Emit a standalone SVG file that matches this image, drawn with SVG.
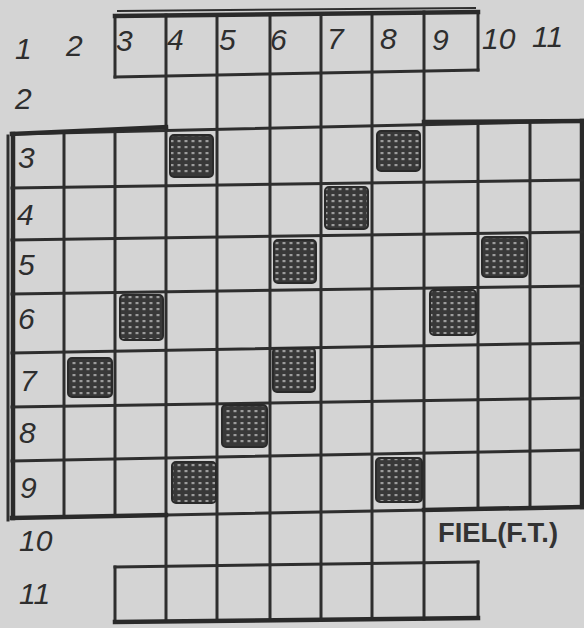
<svg xmlns="http://www.w3.org/2000/svg" width="584" height="628" viewBox="0 0 584 628">
<style>
.g{stroke:#2e2e2e;stroke-width:3;stroke-linecap:square;fill:none}
.o{stroke:#2a2a2a;stroke-width:4.5;stroke-linecap:square;fill:none}
.n{font-family:"Liberation Sans",Arial,sans-serif;font-style:italic;font-size:30px;fill:#2e2e2e}
.ship{fill:url(#hatch);stroke:#2a2a2a;stroke-width:2}
.cap{font-family:"Liberation Sans",Arial,sans-serif;font-weight:bold;font-size:27px;fill:#333}
</style>
<defs>
<pattern id="hatch" width="7" height="6" patternUnits="userSpaceOnUse">
<rect width="7" height="6" fill="#383838"/>
<rect x="2.5" y="2" width="3" height="2.2" fill="#9c9c9c"/>
</pattern>
</defs>
<rect width="584" height="628" fill="#d4d4d4"/>
<g id="grid">
<line class="g" x1="64" y1="133" x2="64" y2="517"/>
<line class="g" x1="115" y1="16" x2="115" y2="77"/>
<line class="g" x1="115" y1="132" x2="115" y2="516"/>
<line class="g" x1="115" y1="567" x2="115" y2="622"/>
<line class="g" x1="166" y1="15" x2="166" y2="621"/>
<line class="g" x1="217" y1="15" x2="217" y2="621"/>
<line class="g" x1="270" y1="14" x2="270" y2="620"/>
<line class="g" x1="321" y1="14" x2="321" y2="620"/>
<line class="g" x1="372" y1="13" x2="372" y2="619"/>
<line class="g" x1="424" y1="12" x2="424" y2="619"/>
<line class="g" x1="478" y1="12" x2="478" y2="70"/>
<line class="g" x1="478" y1="123" x2="478" y2="509"/>
<line class="g" x1="478" y1="562" x2="478" y2="618"/>
<line class="g" x1="530" y1="122" x2="530" y2="508"/>
<line class="o" x1="582" y1="121" x2="582" y2="507"/>
<line class="o" x1="13" y1="134" x2="13" y2="518"/>
<line class="g" x1="8" y1="136" x2="8" y2="520"/>
<line class="o" x1="115" y1="16" x2="478" y2="12"/>
<line class="g" x1="118" y1="11" x2="475" y2="8" style="stroke-width:2"/>
<line class="g" x1="115" y1="77" x2="478" y2="70"/>
<line class="g" x1="12" y1="134" x2="582" y2="121"/>
<line class="o" x1="12" y1="134" x2="166" y2="127"/>
<line class="o" x1="424" y1="122" x2="582" y2="121"/>
<line class="g" x1="12" y1="188" x2="582" y2="180"/>
<line class="g" x1="12" y1="240" x2="582" y2="232"/>
<line class="g" x1="12" y1="294" x2="582" y2="286"/>
<line class="g" x1="12" y1="353" x2="582" y2="343"/>
<line class="g" x1="12" y1="407" x2="582" y2="398"/>
<line class="g" x1="12" y1="461" x2="582" y2="450"/>
<line class="g" x1="12" y1="518" x2="582" y2="507"/>
<line class="o" x1="12" y1="518" x2="166" y2="515"/>
<line class="o" x1="424" y1="510" x2="582" y2="507"/>
<line class="g" x1="115" y1="567" x2="478" y2="562"/>
<line class="o" x1="115" y1="622" x2="478" y2="618"/>
</g>
<g id="ships">
<rect class="ship" x="170" y="135" width="43" height="42" rx="4"/>
<rect class="ship" x="377" y="131" width="43" height="40" rx="4"/>
<rect class="ship" x="325" y="187" width="43" height="42" rx="4"/>
<rect class="ship" x="274" y="240" width="42" height="43" rx="4"/>
<rect class="ship" x="482" y="237" width="45" height="40" rx="4"/>
<rect class="ship" x="120" y="295" width="43" height="45" rx="4"/>
<rect class="ship" x="430" y="290" width="46" height="45" rx="4"/>
<rect class="ship" x="68" y="358" width="44" height="39" rx="4"/>
<rect class="ship" x="273" y="348" width="42" height="44" rx="4"/>
<rect class="ship" x="222" y="405" width="45" height="42" rx="4"/>
<rect class="ship" x="172" y="462" width="44" height="41" rx="4"/>
<rect class="ship" x="376" y="458" width="46" height="44" rx="4"/>
</g>
<g id="column-labels">
<text class="n" x="15" y="59">1</text>
<text class="n" x="66" y="56">2</text>
<text class="n" x="116" y="51">3</text>
<text class="n" x="167" y="50">4</text>
<text class="n" x="219" y="50">5</text>
<text class="n" x="270" y="50">6</text>
<text class="n" x="327" y="49">7</text>
<text class="n" x="380" y="49">8</text>
<text class="n" x="432" y="50">9</text>
<text class="n" x="482" y="49">10</text>
<text class="n" x="532" y="47">11</text>
</g>
<g id="row-labels">
<text class="n" x="15" y="109">2</text>
<text class="n" x="18" y="168">3</text>
<text class="n" x="17" y="225">4</text>
<text class="n" x="18" y="275">5</text>
<text class="n" x="18" y="329">6</text>
<text class="n" x="20" y="391">7</text>
<text class="n" x="19" y="443">8</text>
<text class="n" x="20" y="498">9</text>
<text class="n" x="19" y="551">10</text>
<text class="n" x="19" y="604">11</text>
</g>
<g id="caption">
<text class="cap" x="438" y="542" textLength="120" lengthAdjust="spacingAndGlyphs">FIEL(F.T.)</text>
</g>
</svg>
